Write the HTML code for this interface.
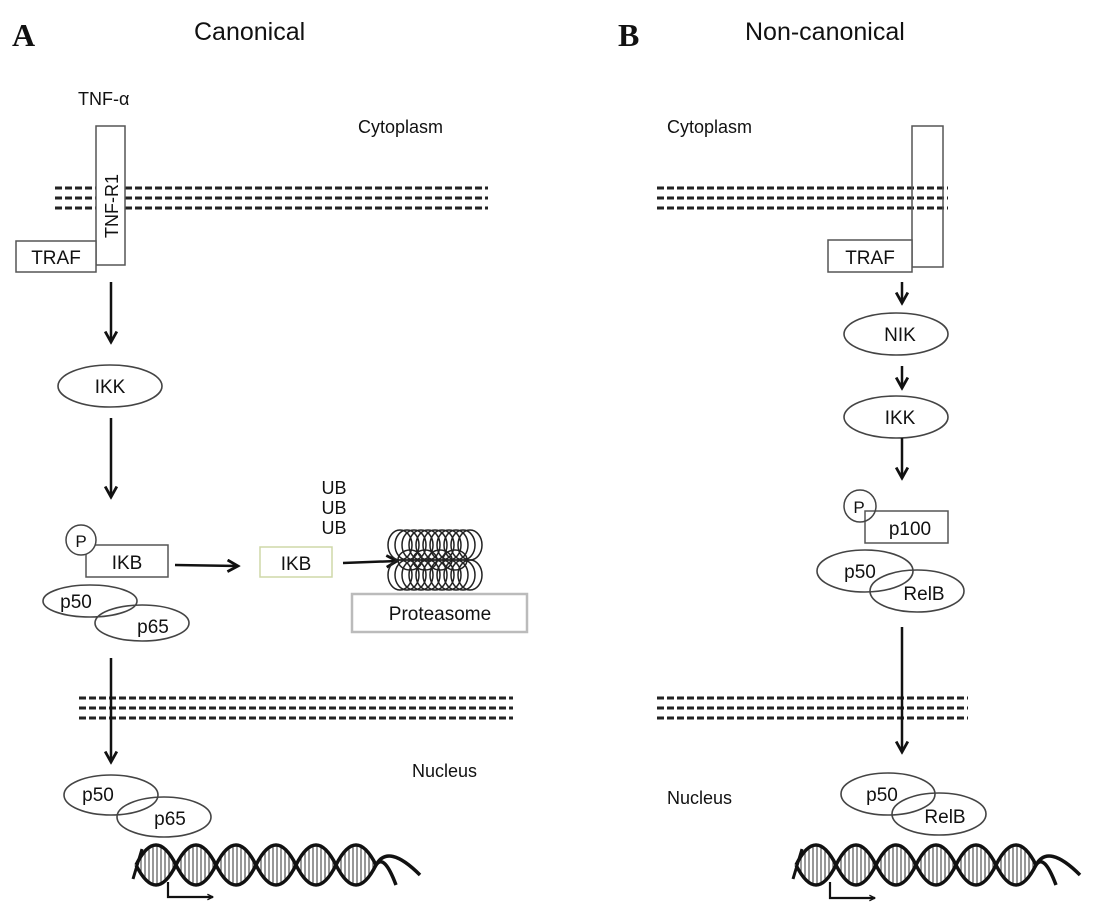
<!DOCTYPE html>
<html><head><meta charset="utf-8"><style>
html,body{margin:0;padding:0;background:#fff}
svg{display:block}
text{font-family:"Liberation Sans",Arial,sans-serif;fill:#111}
</style></head><body>
<svg width="1096" height="919" viewBox="0 0 1096 919" xmlns="http://www.w3.org/2000/svg">
<defs>
<marker id="ah" viewBox="0 0 10 10" refX="9" refY="5" markerWidth="7" markerHeight="7" orient="auto" markerUnits="userSpaceOnUse">
<path d="M1,1 L9,5 L1,9" fill="none" stroke="#111" stroke-width="2"/></marker>
<marker id="ah2" viewBox="0 0 12 12" refX="10" refY="6" markerWidth="14" markerHeight="14" orient="auto" markerUnits="userSpaceOnUse">
<path d="M1,1 L10,6 L1,11" fill="none" stroke="#111" stroke-width="2.4"/></marker>
<pattern id="hatch" width="4" height="10" patternUnits="userSpaceOnUse">
<rect width="4" height="10" fill="#fff"/><line x1="1" y1="0" x2="1" y2="10" stroke="#555" stroke-width="1.2"/></pattern>
<g id="dna">
<path d="M0 20 q20 -40 40 0 t40 0 t40 0 t40 0 t40 0 t40 0 L240 20 q-20 -40 -40 0 t-40 0 t-40 0 t-40 0 t-40 0 t-40 0 Z" fill="url(#hatch)" stroke="none"/>
<path d="M0 20 q20 -40 40 0 t40 0 t40 0 t40 0 t40 0 t40 0 q12 -22 44 10" fill="none" stroke="#111" stroke-width="3.5"/>
<path d="M0 20 q20 40 40 0 t40 0 t40 0 t40 0 t40 0 t40 0 q8 -12 20 20" fill="none" stroke="#111" stroke-width="3.5"/>
<path d="M-3 34 L6 4" stroke="#111" stroke-width="3"/>
</g>
</defs>

<!-- Headers -->
<text x="12" y="46" style="font-family:'Liberation Serif',serif;font-weight:bold;font-size:32px">A</text>
<text x="194" y="40" font-size="25">Canonical</text>
<text x="618" y="46" style="font-family:'Liberation Serif',serif;font-weight:bold;font-size:32px">B</text>
<text x="745" y="40" font-size="25">Non-canonical</text>

<!-- Panel A -->
<g stroke="#222" stroke-width="3" stroke-dasharray="7 3">
<line x1="55" y1="188" x2="488" y2="188"/><line x1="55" y1="198" x2="488" y2="198"/><line x1="55" y1="208" x2="488" y2="208"/>
<line x1="79" y1="698" x2="513" y2="698"/><line x1="79" y1="708" x2="513" y2="708"/><line x1="79" y1="718" x2="513" y2="718"/>
</g>
<text x="78" y="105" font-size="18">TNF-α</text>
<text x="358" y="133" font-size="18">Cytoplasm</text>
<rect x="96" y="126" width="29" height="139" fill="#fff" stroke="#555" stroke-width="1.5"/>
<text transform="translate(118,238) rotate(-90)" font-size="18">TNF-R1</text>
<rect x="16" y="241" width="80" height="31" fill="#fff" stroke="#555" stroke-width="1.5"/>
<text x="56" y="264" font-size="19" text-anchor="middle">TRAF</text>
<line x1="111" y1="282" x2="111" y2="342" stroke="#111" stroke-width="2.5" marker-end="url(#ah2)"/>
<ellipse cx="110" cy="386" rx="52" ry="21" fill="#fff" stroke="#444" stroke-width="1.6"/>
<text x="110" y="393" font-size="19" text-anchor="middle">IKK</text>
<line x1="111" y1="418" x2="111" y2="497" stroke="#111" stroke-width="2.5" marker-end="url(#ah2)"/>
<rect x="86" y="545" width="82" height="32" fill="#fff" stroke="#555" stroke-width="1.5"/>
<text x="127" y="569" font-size="19" text-anchor="middle">IKB</text>
<circle cx="81" cy="540" r="15" fill="#fff" stroke="#444" stroke-width="1.5"/>
<text x="81" y="547" font-size="17" text-anchor="middle">P</text>
<ellipse cx="90" cy="601" rx="47" ry="16" fill="none" stroke="#444" stroke-width="1.6"/>
<ellipse cx="142" cy="623" rx="47" ry="18" fill="none" stroke="#444" stroke-width="1.6"/>
<text x="76" y="608" font-size="19" text-anchor="middle">p50</text>
<text x="153" y="633" font-size="19" text-anchor="middle">p65</text>
<line x1="175" y1="565" x2="238" y2="566" stroke="#111" stroke-width="2.5" marker-end="url(#ah2)"/>
<rect x="260" y="547" width="72" height="30" fill="#fff" stroke="#cfd8a8" stroke-width="1.5"/>
<text x="296" y="570" font-size="19" text-anchor="middle">IKB</text>
<text x="334" y="494" font-size="18" text-anchor="middle">UB</text>
<text x="334" y="514" font-size="18" text-anchor="middle">UB</text>
<text x="334" y="534" font-size="18" text-anchor="middle">UB</text>
<line x1="343" y1="563" x2="397" y2="561" stroke="#111" stroke-width="2.5" marker-end="url(#ah2)"/>
<g fill="none" stroke="#222" stroke-width="1.5">
<ellipse cx="400" cy="545" rx="12" ry="15"/><ellipse cx="407" cy="545" rx="12" ry="15"/><ellipse cx="414" cy="545" rx="12" ry="15"/><ellipse cx="421" cy="545" rx="12" ry="15"/><ellipse cx="428" cy="545" rx="12" ry="15"/><ellipse cx="435" cy="545" rx="12" ry="15"/><ellipse cx="442" cy="545" rx="12" ry="15"/><ellipse cx="449" cy="545" rx="12" ry="15"/><ellipse cx="456" cy="545" rx="12" ry="15"/><ellipse cx="463" cy="545" rx="12" ry="15"/><ellipse cx="470" cy="545" rx="12" ry="15"/>
<ellipse cx="400" cy="575" rx="12" ry="15"/><ellipse cx="407" cy="575" rx="12" ry="15"/><ellipse cx="414" cy="575" rx="12" ry="15"/><ellipse cx="421" cy="575" rx="12" ry="15"/><ellipse cx="428" cy="575" rx="12" ry="15"/><ellipse cx="435" cy="575" rx="12" ry="15"/><ellipse cx="442" cy="575" rx="12" ry="15"/><ellipse cx="449" cy="575" rx="12" ry="15"/><ellipse cx="456" cy="575" rx="12" ry="15"/><ellipse cx="463" cy="575" rx="12" ry="15"/><ellipse cx="470" cy="575" rx="12" ry="15"/>
<ellipse cx="410" cy="560" rx="12" ry="10"/><ellipse cx="425" cy="560" rx="12" ry="10"/><ellipse cx="440" cy="560" rx="12" ry="10"/><ellipse cx="455" cy="560" rx="12" ry="10"/>
</g>
<rect x="352" y="594" width="175" height="38" fill="#fff" stroke="#bbb" stroke-width="2.5"/>
<text x="440" y="620" font-size="19" text-anchor="middle">Proteasome</text>
<line x1="111" y1="658" x2="111" y2="762" stroke="#111" stroke-width="2.5" marker-end="url(#ah2)"/>
<text x="412" y="777" font-size="18">Nucleus</text>
<ellipse cx="111" cy="795" rx="47" ry="20" fill="none" stroke="#444" stroke-width="1.6"/>
<ellipse cx="164" cy="817" rx="47" ry="20" fill="none" stroke="#444" stroke-width="1.6"/>
<text x="98" y="801" font-size="19" text-anchor="middle">p50</text>
<text x="170" y="825" font-size="19" text-anchor="middle">p65</text>
<use href="#dna" x="136" y="845"/>
<path d="M168 882 L168 897 L213 897" fill="none" stroke="#111" stroke-width="2.2" marker-end="url(#ah)"/>

<!-- Panel B -->
<g stroke="#222" stroke-width="3" stroke-dasharray="7 3">
<line x1="657" y1="188" x2="948" y2="188"/><line x1="657" y1="198" x2="948" y2="198"/><line x1="657" y1="208" x2="948" y2="208"/>
<line x1="657" y1="698" x2="968" y2="698"/><line x1="657" y1="708" x2="968" y2="708"/><line x1="657" y1="718" x2="968" y2="718"/>
</g>
<text x="667" y="133" font-size="18">Cytoplasm</text>
<rect x="912" y="126" width="31" height="141" fill="none" stroke="#555" stroke-width="1.5"/>
<rect x="828" y="240" width="84" height="32" fill="#fff" stroke="#555" stroke-width="1.5"/>
<text x="870" y="264" font-size="19" text-anchor="middle">TRAF</text>
<line x1="902" y1="282" x2="902" y2="303" stroke="#111" stroke-width="2.5" marker-end="url(#ah2)"/>
<ellipse cx="896" cy="334" rx="52" ry="21" fill="#fff" stroke="#444" stroke-width="1.6"/>
<text x="900" y="341" font-size="19" text-anchor="middle">NIK</text>
<line x1="902" y1="366" x2="902" y2="388" stroke="#111" stroke-width="2.5" marker-end="url(#ah2)"/>
<ellipse cx="896" cy="417" rx="52" ry="21" fill="#fff" stroke="#444" stroke-width="1.6"/>
<text x="900" y="424" font-size="19" text-anchor="middle">IKK</text>
<line x1="902" y1="438" x2="902" y2="478" stroke="#111" stroke-width="2.5" marker-end="url(#ah2)"/>
<rect x="865" y="511" width="83" height="32" fill="#fff" stroke="#555" stroke-width="1.5"/>
<text x="910" y="535" font-size="19" text-anchor="middle">p100</text>
<circle cx="860" cy="506" r="16" fill="none" stroke="#444" stroke-width="1.5"/>
<text x="859" y="513" font-size="17" text-anchor="middle">P</text>
<ellipse cx="865" cy="571" rx="48" ry="21" fill="none" stroke="#444" stroke-width="1.6"/>
<ellipse cx="917" cy="591" rx="47" ry="21" fill="none" stroke="#444" stroke-width="1.6"/>
<text x="860" y="578" font-size="19" text-anchor="middle">p50</text>
<text x="924" y="600" font-size="19" text-anchor="middle">RelB</text>
<line x1="902" y1="627" x2="902" y2="752" stroke="#111" stroke-width="2.5" marker-end="url(#ah2)"/>
<text x="667" y="804" font-size="18">Nucleus</text>
<ellipse cx="888" cy="794" rx="47" ry="21" fill="none" stroke="#444" stroke-width="1.6"/>
<ellipse cx="939" cy="814" rx="47" ry="21" fill="none" stroke="#444" stroke-width="1.6"/>
<text x="882" y="801" font-size="19" text-anchor="middle">p50</text>
<text x="945" y="823" font-size="19" text-anchor="middle">RelB</text>
<use href="#dna" x="796" y="845"/>
<path d="M830 882 L830 898 L875 898" fill="none" stroke="#111" stroke-width="2.2" marker-end="url(#ah)"/>
</svg>
</body></html>
